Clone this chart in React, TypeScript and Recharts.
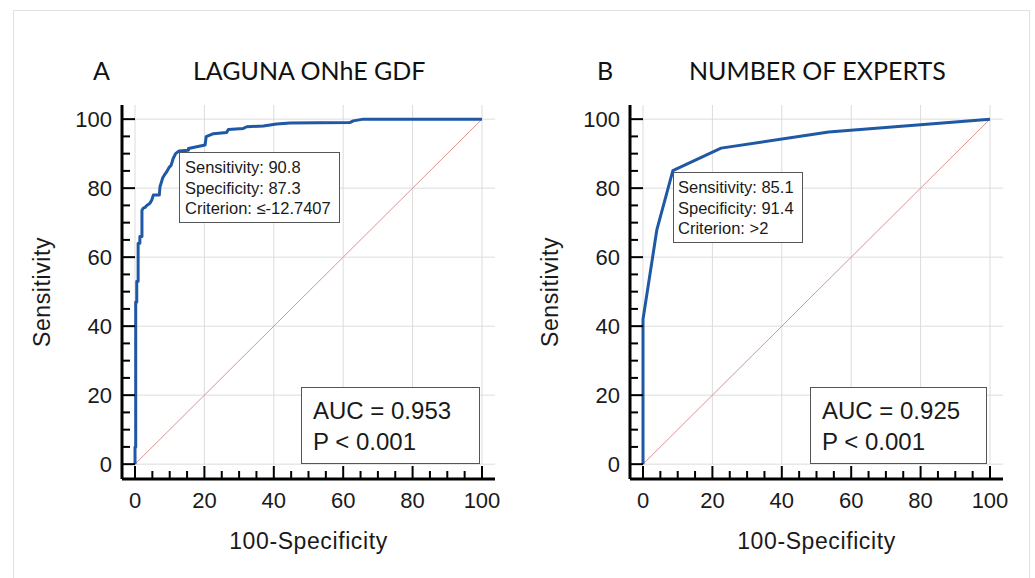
import React from 'react';
import { LineChart, Line, XAxis, YAxis, ReferenceLine } from 'recharts';

// ROC curve A (LAGUNA ONhE GDF): 100-Specificity vs Sensitivity
const rocAFpr = [0, 0, 0.2, 0.2, 0.5, 0.5, 0.9, 0.9, 1.4, 1.4, 2.0, 2.0, 2.4, 2.9, 3.4, 4.3, 4.8, 5.3, 7.0, 7.2, 8.0, 8.4, 9.1, 9.9, 10.4, 11.0, 11.7, 12.7, 15.4, 15.4, 17.8, 20.2, 20.5, 22.6, 26.4, 26.9, 31.2, 32.2, 37.0, 40.8, 44.7, 61.9, 62.9, 65.8, 100];
const rocASens = [0, 5, 5, 47, 47, 53, 53, 64, 64, 66, 66, 73.6, 74.2, 74.4, 75, 75.6, 76.5, 78, 78, 80.4, 83, 83.7, 84.7, 86.1, 86.6, 88.6, 90, 90.8, 91, 91.5, 92, 92.5, 94.9, 95.8, 96.1, 97.0, 97.3, 97.8, 98.0, 98.6, 98.9, 99.0, 99.5, 100, 100];

// ROC curve B (number of experts)
const rocBFpr = [0, 0, 4.0, 8.6, 22.5, 53.5, 100];
const rocBSens = [0, 42, 68, 85.1, 91.6, 96.3, 100];

// chance diagonal
const chanceFpr = [0, 100];
const chanceSens = [0, 100];

const axisTicks = [0, 5, 10, 15, 20, 25, 30, 35, 40, 45, 50, 55, 60, 65, 70, 75, 80, 85, 90, 95, 100];
const gridValues = [0, 20, 40, 60, 80, 100];

const rocA = rocAFpr.map((fpr, i) => ({ fpr, sens: rocASens[i] }));
const rocB = rocBFpr.map((fpr, i) => ({ fpr, sens: rocBSens[i] }));
const chance = chanceFpr.map((fpr, i) => ({ fpr, sens: chanceSens[i] }));

const FONT = 'Arial, "Liberation Sans", sans-serif';
const X_DOMAIN = [-3.75, 103.75];
const Y_DOMAIN = [-4.3, 104.1];

const YTick = (props: any) => {
  const { x, y, payload } = props;
  const v = payload.value;
  const major = v % 20 === 0;
  return (
    <g>
      <line x1={x} y1={y} x2={x + (major ? 13 : 8)} y2={y} stroke="#000" strokeWidth={2} />
      {major && (
        <text x={x - 10} y={y} dy="0.36em" textAnchor="end" fontSize={22} fontFamily={FONT} fill="#1a1a1a">
          {v}
        </text>
      )}
    </g>
  );
};

const XTick = (props: any) => {
  const { x, y, payload } = props;
  const v = payload.value;
  const major = v % 20 === 0;
  return (
    <g>
      <line x1={x} y1={y} x2={x} y2={y - (major ? 13 : 8)} stroke="#000" strokeWidth={2} />
      {major && (
        <text x={x} y={y + 21} dy="0.36em" textAnchor="middle" fontSize={22} fontFamily={FONT} fill="#1a1a1a">
          {v}
        </text>
      )}
    </g>
  );
};

function RocPanel({ data, left }: { data: { fpr: number; sens: number }[]; left: number }) {
  return (
    <div style={{ position: 'absolute', left, top: 0 }}>
      <LineChart width={520} height={578} margin={{ top: 105, left: 62, right: 25, bottom: 49 }}>
        <XAxis
          dataKey="fpr"
          type="number"
          domain={X_DOMAIN}
          allowDataOverflow
          ticks={axisTicks}
          interval={0}
          height={50}
          tickSize={0}
          tickMargin={0}
          tickLine={false}
          axisLine={{ stroke: '#000', strokeWidth: 3 }}
          tick={(p: any) => <XTick {...p} />}
          label={{ value: '100-Specificity', position: 'insideBottom', offset: -20, fontSize: 23, fontFamily: FONT, fill: '#1a1a1a', letterSpacing: 0.6 }}
        />
        <YAxis
          type="number"
          domain={Y_DOMAIN}
          allowDataOverflow
          ticks={axisTicks}
          interval={0}
          width={60}
          tickSize={0}
          tickMargin={0}
          tickLine={false}
          axisLine={{ stroke: '#000', strokeWidth: 3 }}
          tick={(p: any) => <YTick {...p} />}
          label={{ value: 'Sensitivity', angle: -90, position: 'insideLeft', offset: -20, fontSize: 23, fontFamily: FONT, fill: '#1a1a1a', letterSpacing: 0.6, style: { textAnchor: 'middle' } }}
        />
        {gridValues.map((v) => (
          <ReferenceLine key={'h' + v} segment={[{ x: 0, y: v }, { x: 103.75, y: v }]} stroke="#dcdcdc" strokeWidth={1} />
        ))}
        {gridValues.map((v) => (
          <ReferenceLine key={'v' + v} segment={[{ x: v, y: 0 }, { x: v, y: 104.1 }]} stroke="#dcdcdc" strokeWidth={1} />
        ))}
        <Line
          data={chance}
          type="linear"
          dataKey="sens"
          stroke="#dc9292"
          strokeWidth={1}
          dot={false}
          activeDot={false}
          isAnimationActive={false}
        />
        <Line
          data={data}
          type="linear"
          dataKey="sens"
          stroke="#1f58a5"
          strokeWidth={3}
          strokeLinejoin="round"
          dot={false}
          activeDot={false}
          isAnimationActive={false}
        />
      </LineChart>
    </div>
  );
}

const boxText: React.CSSProperties = {
  position: 'absolute',
  background: '#fff',
  border: '1.5px solid #555',
  boxSizing: 'border-box',
  fontFamily: FONT,
  color: '#1a1a1a',
};

const titleStyle: React.CSSProperties = {
  position: 'absolute',
  fontFamily: 'Lato, sans-serif',
  fontSize: 25,
  color: '#111',
  lineHeight: '30px',
  top: 55,
  whiteSpace: 'nowrap',
};

export default function App() {
  return (
    <div style={{ position: 'absolute', left: 0, top: 0, width: 1035, height: 578, background: '#fff', overflow: 'hidden' }}>
      <div style={{ position: 'absolute', left: 13, top: 10, width: 1017, height: 600, border: '1px solid #e2e2e2', boxSizing: 'border-box' }} />

      <div style={{ ...titleStyle, left: 93 }}>A</div>
      <div style={{ ...titleStyle, left: 193 }}>LAGUNA ONhE GDF</div>
      <div style={{ ...titleStyle, left: 597 }}>B</div>
      <div style={{ ...titleStyle, left: 689 }}>NUMBER OF EXPERTS</div>

      <RocPanel data={rocA} left={0} />
      <RocPanel data={rocB} left={508} />

      <div style={{ ...boxText, left: 179, top: 152, width: 161, height: 71, padding: '4px 0 0 5px', fontSize: 16.5, lineHeight: '20.5px' }}>
        <div>Sensitivity: 90.8</div>
        <div>Specificity: 87.3</div>
        <div>Criterion: ≤-12.7407</div>
      </div>
      <div style={{ ...boxText, left: 673, top: 172, width: 130, height: 71, padding: '4px 0 0 4px', fontSize: 16.5, lineHeight: '20.5px' }}>
        <div>Sensitivity: 85.1</div>
        <div>Specificity: 91.4</div>
        <div>Criterion: &gt;2</div>
      </div>

      <div style={{ ...boxText, left: 301, top: 387, width: 179, height: 77, padding: '7px 0 0 11px', fontSize: 24, lineHeight: '31px' }}>
        <div>AUC = 0.953</div>
        <div>P &lt; 0.001</div>
      </div>
      <div style={{ ...boxText, left: 810, top: 387, width: 177, height: 77, padding: '7px 0 0 11px', fontSize: 24, lineHeight: '31px' }}>
        <div>AUC = 0.925</div>
        <div>P &lt; 0.001</div>
      </div>
    </div>
  );
}
